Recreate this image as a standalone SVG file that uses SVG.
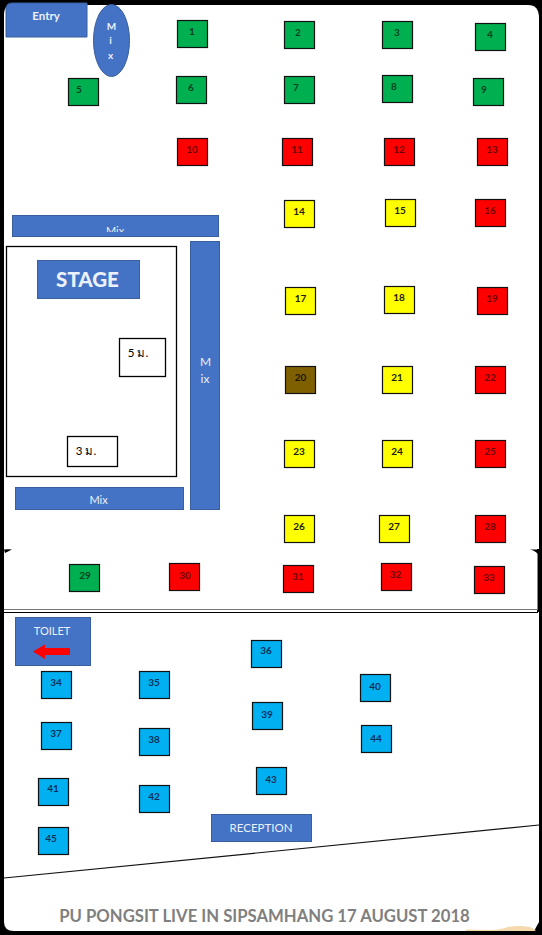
<svg xmlns="http://www.w3.org/2000/svg" width="542" height="935" viewBox="0 0 542 935">
<style>
text{font-family:Lato,"Liberation Sans","Noto Sans CJK SC",sans-serif;text-anchor:middle}
.s{stroke:#111;stroke-width:1.2}
.g{fill:#00b050}.r{fill:#ff0000}.y{fill:#ffff00}.b{fill:#00b0f0}.br{fill:#7f6000}
.n{font-size:10px;font-weight:700}
.tg{fill:#05401f}.tr{fill:#6a0505}.ty{fill:#202000}.tb{fill:#06315c}.tbr{fill:#1a1400}
.bar{fill:#4472c4;stroke:#3a5f9f;stroke-width:1}
.w{fill:#eaf1fb}
.box{fill:#fff;stroke:#000;stroke-width:1.3}
</style>
<defs><clipPath id="mixclip"><rect x="12" y="215" width="206" height="17"/></clipPath></defs>
<rect width="542" height="935" fill="#000"/>
<path d="M12 5H528Q539 5 539 18V549H4V14Q4 5 12 5Z" fill="#fff"/>
<path d="M4 548H537V613H4Z" fill="#fff"/>
<path d="M4 612H539V922L534 931H14Q4 931 4 922Z" fill="#fff"/>
<g id="connectors" fill="none">
<path d="M4 609.500H537" stroke="#777" stroke-width="1.200"/>
<path d="M4 612.500H538" stroke="#000" stroke-width="1.200"/>
<path d="M537.500 550V610" stroke="#888" stroke-width="1"/>
<path d="M4 878L539 825" stroke="#111" stroke-width="1.200"/>
</g>
<path d="M4 549.500Q8 549 12 549.500L5 553Z" fill="#000"/>
<path d="M530 549.500H539V556Q537 551 530 549.500Z" fill="#000"/>
<path d="M466 931V929.500L490 930Q500 930 508 927Q518 925 530 927L536 930L534 931Z" fill="#f3d9ad"/>
<g id="entry"><path class="bar" d="M6 9Q6 3 12 3H87V37H6Z"/><text class="w" x="46" y="20" font-size="11.500" font-weight="700">Entry</text></g>
<g id="mix-oval"><ellipse cx="111.500" cy="40.500" rx="18" ry="36" fill="#4472c4" stroke="#3a5f9f"/><g class="w" font-size="10" font-weight="700"><text x="111.500" y="30">M</text><text x="110.500" y="44">i</text><text x="110.500" y="59">x</text></g></g>
<g id="mix-top"><rect class="bar" x="12.500" y="215.500" width="206" height="21"/><text class="w" x="115" y="234.500" font-size="11" clip-path="url(#mixclip)">Mix</text></g>
<g id="stage-area"><rect x="6.500" y="246.500" width="170" height="230" fill="#fff" stroke="#000" stroke-width="1.300"/></g>
<g id="stage"><rect class="bar" x="37.500" y="260.500" width="102" height="38"/><text class="w" x="87.500" y="287" font-size="20.500" font-weight="900">STAGE</text></g>
<g id="box-5m"><rect class="box" x="119.500" y="338.500" width="46" height="38"/><text x="138" y="357" font-size="11.500" fill="#000">5 ม.</text></g>
<g id="box-3m"><rect class="box" x="67.500" y="436.500" width="50" height="30"/><text x="86" y="455" font-size="11.500" fill="#000">3 ม.</text></g>
<g id="mix-right"><rect class="bar" x="190.500" y="241.500" width="29" height="268"/><g class="w" font-size="12"><text x="205.500" y="366">M</text><text x="205" y="383">ix</text></g></g>
<g id="mix-bottom"><rect class="bar" x="15.500" y="487.500" width="168" height="22"/><text class="w" x="98.500" y="504" font-size="11">Mix</text></g>
<g id="toilet"><rect class="bar" x="15.500" y="617.500" width="75" height="48"/><text class="w" x="52" y="635" font-size="11">TOILET</text><path d="M70 648V655H45V659L33 651.500L45 644.500V648Z" fill="#ff0000"/></g>
<g id="reception"><rect class="bar" x="211.500" y="814.500" width="100" height="27"/><text class="w" x="261" y="832" font-size="11.500">RECEPTION</text></g>
<g id="seat-1"><rect class="s g" x="177.500" y="20.500" width="30" height="27"/><text class="n tg" x="192" y="35">1</text></g>
<g id="seat-2"><rect class="s g" x="284.500" y="21.500" width="30" height="27"/><text class="n tg" x="298" y="36">2</text></g>
<g id="seat-3"><rect class="s g" x="382.500" y="21.500" width="30" height="27"/><text class="n tg" x="397" y="36">3</text></g>
<g id="seat-4"><rect class="s g" x="475.500" y="23.500" width="30" height="27"/><text class="n tg" x="490" y="38">4</text></g>
<g id="seat-5"><rect class="s g" x="68.500" y="78.500" width="30" height="27"/><text class="n tg" x="79" y="93">5</text></g>
<g id="seat-6"><rect class="s g" x="176.500" y="76.500" width="30" height="27"/><text class="n tg" x="191" y="91">6</text></g>
<g id="seat-7"><rect class="s g" x="284.500" y="76.500" width="30" height="27"/><text class="n tg" x="296" y="91">7</text></g>
<g id="seat-8"><rect class="s g" x="382.500" y="75.500" width="30" height="27"/><text class="n tg" x="394" y="90">8</text></g>
<g id="seat-9"><rect class="s g" x="473.500" y="78.500" width="30" height="27"/><text class="n tg" x="484" y="93">9</text></g>
<g id="seat-10"><rect class="s r" x="177.500" y="138.500" width="30" height="27"/><text class="n tr" x="192" y="153">10</text></g>
<g id="seat-11"><rect class="s r" x="282.500" y="138.500" width="30" height="27"/><text class="n tr" x="297" y="153">11</text></g>
<g id="seat-12"><rect class="s r" x="384.500" y="138.500" width="30" height="27"/><text class="n tr" x="399" y="153">12</text></g>
<g id="seat-13"><rect class="s r" x="477.500" y="138.500" width="30" height="27"/><text class="n tr" x="492" y="153">13</text></g>
<g id="seat-14"><rect class="s y" x="284.500" y="200.500" width="30" height="27"/><text class="n ty" x="299" y="215">14</text></g>
<g id="seat-15"><rect class="s y" x="385.500" y="199.500" width="30" height="27"/><text class="n ty" x="400" y="214">15</text></g>
<g id="seat-16"><rect class="s r" x="475.500" y="199.500" width="30" height="27"/><text class="n tr" x="490" y="214">16</text></g>
<g id="seat-17"><rect class="s y" x="285.500" y="287.500" width="30" height="27"/><text class="n ty" x="300.500" y="302">17</text></g>
<g id="seat-18"><rect class="s y" x="384.500" y="286.500" width="30" height="27"/><text class="n ty" x="399" y="301">18</text></g>
<g id="seat-19"><rect class="s r" x="477.500" y="287.500" width="30" height="27"/><text class="n tr" x="492" y="302">19</text></g>
<g id="seat-20"><rect class="s br" x="285.500" y="366.500" width="30" height="27"/><text class="n tbr" x="300.500" y="381">20</text></g>
<g id="seat-21"><rect class="s y" x="382.500" y="366.500" width="30" height="27"/><text class="n ty" x="397" y="381">21</text></g>
<g id="seat-22"><rect class="s r" x="475.500" y="366.500" width="30" height="27"/><text class="n tr" x="490" y="381">22</text></g>
<g id="seat-23"><rect class="s y" x="284.500" y="440.500" width="30" height="27"/><text class="n ty" x="299" y="455">23</text></g>
<g id="seat-24"><rect class="s y" x="382.500" y="440.500" width="30" height="27"/><text class="n ty" x="397" y="455">24</text></g>
<g id="seat-25"><rect class="s r" x="475.500" y="440.500" width="30" height="27"/><text class="n tr" x="490" y="455">25</text></g>
<g id="seat-26"><rect class="s y" x="284.500" y="515.500" width="30" height="27"/><text class="n ty" x="299" y="530">26</text></g>
<g id="seat-27"><rect class="s y" x="379.500" y="515.500" width="30" height="27"/><text class="n ty" x="394" y="530">27</text></g>
<g id="seat-28"><rect class="s r" x="475.500" y="515.500" width="30" height="27"/><text class="n tr" x="490" y="530">28</text></g>
<g id="seat-29"><rect class="s g" x="69.500" y="564.500" width="30" height="27"/><text class="n tg" x="85" y="579">29</text></g>
<g id="seat-30"><rect class="s r" x="169.500" y="563.500" width="30" height="27"/><text class="n tr" x="185" y="579">30</text></g>
<g id="seat-31"><rect class="s r" x="283.500" y="565.500" width="30" height="27"/><text class="n tr" x="298" y="580">31</text></g>
<g id="seat-32"><rect class="s r" x="381.500" y="563.500" width="30" height="27"/><text class="n tr" x="395.500" y="578">32</text></g>
<g id="seat-33"><rect class="s r" x="474.500" y="566.500" width="30" height="27"/><text class="n tr" x="489" y="581">33</text></g>
<g id="seat-34"><rect class="s b" x="41.500" y="671.500" width="30" height="27"/><text class="n tb" x="56" y="686">34</text></g>
<g id="seat-35"><rect class="s b" x="139.500" y="671.500" width="30" height="27"/><text class="n tb" x="154" y="686">35</text></g>
<g id="seat-36"><rect class="s b" x="251.500" y="640.500" width="30" height="27"/><text class="n tb" x="266" y="654">36</text></g>
<g id="seat-37"><rect class="s b" x="41.500" y="722.500" width="30" height="27"/><text class="n tb" x="56" y="737">37</text></g>
<g id="seat-38"><rect class="s b" x="139.500" y="728.500" width="30" height="27"/><text class="n tb" x="154" y="743">38</text></g>
<g id="seat-39"><rect class="s b" x="252.500" y="702.500" width="30" height="27"/><text class="n tb" x="267" y="718">39</text></g>
<g id="seat-40"><rect class="s b" x="360.500" y="674.500" width="30" height="27"/><text class="n tb" x="375" y="690">40</text></g>
<g id="seat-41"><rect class="s b" x="38.500" y="778.500" width="30" height="27"/><text class="n tb" x="53" y="792">41</text></g>
<g id="seat-42"><rect class="s b" x="139.500" y="785.500" width="30" height="27"/><text class="n tb" x="154" y="800">42</text></g>
<g id="seat-43"><rect class="s b" x="256.500" y="767.500" width="30" height="27"/><text class="n tb" x="271" y="783">43</text></g>
<g id="seat-44"><rect class="s b" x="361.500" y="725.500" width="30" height="27"/><text class="n tb" x="376" y="742">44</text></g>
<g id="seat-45"><rect class="s b" x="38.500" y="827.500" width="30" height="27"/><text class="n tb" x="51" y="842">45</text></g>
<text id="title" x="264.500" y="922" font-size="16.700" font-weight="700" fill="#7f7f7f">PU PONGSIT LIVE IN SIPSAMHANG 17 AUGUST 2018</text>
</svg>
